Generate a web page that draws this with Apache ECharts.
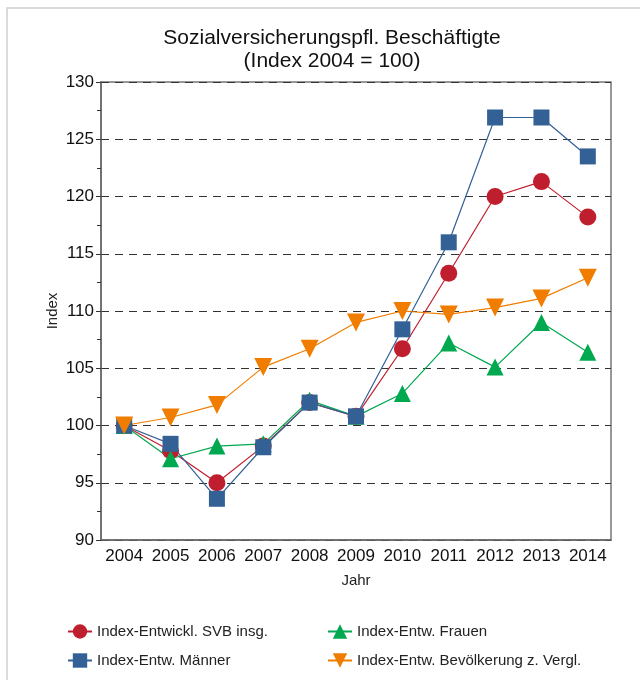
<!DOCTYPE html>
<html>
<head>
<meta charset="utf-8">
<script src="https://cdn.jsdelivr.net/npm/echarts@6/dist/echarts.min.js"></script>
<style>
html, body { margin: 0; padding: 0; background: #fff; }
#chart { width: 640px; height: 680px; }
</style>
</head>
<body>
<div id="chart"></div>
<script>
var years = ['2004', '2005', '2006', '2007', '2008', '2009', '2010', '2011', '2012', '2013', '2014']
var svbInsg = [100, 97.8, 95.0, 98.2, 102.0, 100.8, 106.7, 113.3, 120.0, 121.3, 118.2]
var maenner = [100, 98.4, 93.6, 98.1, 102.0, 100.8, 108.4, 116.0, 126.9, 126.9, 123.5]
var frauen = [100, 97.1, 98.2, 98.4, 102.2, 100.8, 102.8, 107.2, 105.1, 109.0, 106.4]
var bevoelkerung = [100, 100.7, 101.8, 105.1, 106.7, 109.0, 110.0, 109.7, 110.3, 111.1, 112.9]

var font = 'Liberation Sans, Arial, sans-serif'
var downTriangle = 'path://M0,0 L10,0 L5,9 Z'

function makeSeries (name, data, color, symbol, size) {
  return {
    name: name,
    type: 'line',
    data: data,
    symbol: symbol,
    symbolSize: size,
    showAllSymbol: true,
    lineStyle: { color: color, width: 1.2 },
    itemStyle: { color: color },
    emphasis: { disabled: true },
    animation: false
  }
}

var legendText = { fontFamily: font, fontSize: 15, color: '#222' }

var chart = echarts.init(document.getElementById('chart'))
chart.setOption({
  backgroundColor: '#fff',
  graphic: [{
    type: 'rect',
    shape: { x: 7, y: 8, width: 660, height: 700 },
    style: { fill: 'none', stroke: '#cfcfcf', lineWidth: 1.5 },
    silent: true
  }],
  title: {
    text: 'Sozialversicherungspfl. Beschäftigte\n(Index 2004 = 100)',
    left: 327,
    top: 22,
    textAlign: 'center',
    textStyle: {
      fontFamily: font,
      fontSize: 21,
      fontWeight: 'normal',
      color: '#111',
      lineHeight: 23
    }
  },
  grid: {
    left: 101,
    right: 29,
    top: 82,
    bottom: 140,
    show: true,
    borderColor: '#777',
    borderWidth: 1.5,
    containLabel: false
  },
  legend: [{
    orient: 'vertical',
    left: 62,
    top: 619,
    itemWidth: 24,
    itemHeight: 18,
    itemGap: 14,
    data: ['Index-Entwickl. SVB insg.', 'Index-Entw. Männer'],
    textStyle: legendText
  }, {
    orient: 'vertical',
    left: 322,
    top: 619,
    itemWidth: 24,
    itemHeight: 18,
    itemGap: 14,
    data: ['Index-Entw. Frauen', 'Index-Entw. Bevölkerung z. Vergl.'],
    textStyle: legendText
  }],
  xAxis: {
    type: 'category',
    data: years,
    boundaryGap: true,
    name: 'Jahr',
    nameLocation: 'middle',
    nameGap: 33,
    nameTextStyle: { fontFamily: font, fontSize: 15, color: '#222' },
    axisLine: { lineStyle: { color: '#666', width: 1.5 } },
    axisTick: { alignWithLabel: true, interval: 0, length: 7, lineStyle: { color: '#333' } },
    axisLabel: { fontFamily: font, fontSize: 17, color: '#111', margin: 8, interval: 0 },
    splitLine: { show: false }
  },
  yAxis: {
    type: 'value',
    min: 90,
    max: 130,
    interval: 5,
    name: 'Index',
    nameLocation: 'middle',
    nameGap: 41,
    nameMoveOverlap: false,
    nameTextStyle: { fontFamily: font, fontSize: 15, color: '#222' },
    axisLine: { show: true, lineStyle: { color: '#666', width: 1.5 } },
    axisTick: { show: true, length: 5, lineStyle: { color: '#333' } },
    minorTick: { show: true, splitNumber: 2, length: 4, lineStyle: { color: '#333' } },
    axisLabel: { fontFamily: font, fontSize: 17, color: '#111', margin: 7 },
    splitLine: { show: true, lineStyle: { color: '#333', type: [8, 6], width: 1.2 } }
  },
  series: [
    makeSeries('Index-Entwickl. SVB insg.', svbInsg, '#BE1E2D', 'circle', 17),
    makeSeries('Index-Entw. Frauen', frauen, '#00A84F', 'triangle', 17),
    makeSeries('Index-Entw. Männer', maenner, '#336195', 'rect', 16),
    makeSeries('Index-Entw. Bevölkerung z. Vergl.', bevoelkerung, '#F07D00', downTriangle, 18)
  ]
})
</script>
</body>
</html>
